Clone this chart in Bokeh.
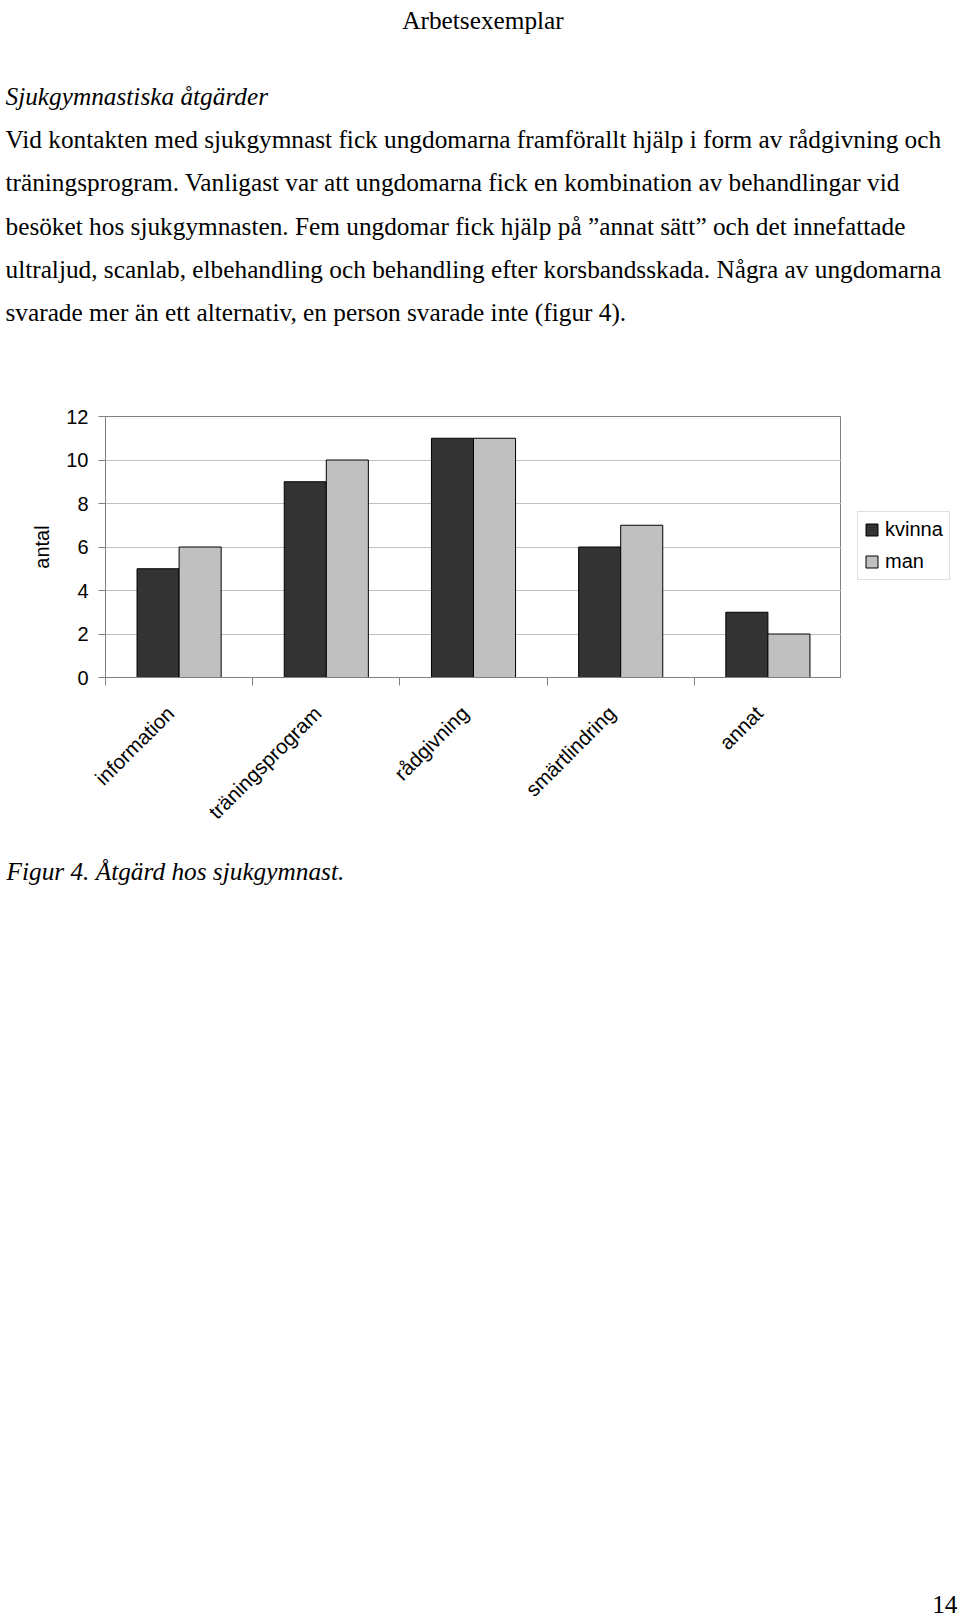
from bokeh.plotting import figure
from bokeh.models import Range1d, FixedTicker, Legend, LegendItem, ColumnDataSource
from bokeh.layouts import column, row
from bokeh.transform import dodge
from bokeh.embed import file_html
from bokeh.resources import INLINE
from bokeh.core.properties import value
from math import pi

# ---------------- page text ----------------
header = "Arbetsexemplar"
heading = "Sjukgymnastiska åtgärder"
body_lines = [
    "Vid kontakten med sjukgymnast fick ungdomarna framförallt hjälp i form av rådgivning och",
    "träningsprogram. Vanligast var att ungdomarna fick en kombination av behandlingar vid",
    "besöket hos sjukgymnasten. Fem ungdomar fick hjälp på \u201dannat sätt\u201d och det innefattade",
    "ultraljud, scanlab, elbehandling och behandling efter korsbandsskada. Några av ungdomarna",
    "svarade mer än ett alternativ, en person svarade inte (figur 4).",
]
caption = "Figur 4. Åtgärd hos sjukgymnast."
page_number = "14"

# ---------------- chart data ----------------
categories = ["information", "träningsprogram", "rådgivning", "smärtlindring", "annat"]
series_names = ["kvinna", "man"]
series_colors = ["#333333", "#c0c0c0"]
kvinna = [5, 9, 11, 6, 3]
man = [6, 10, 11, 7, 2]
y_ticks = [0, 2, 4, 6, 8, 10, 12]
y_label = "antal"

W = 960
SERIF = "Liberation Serif"
SANS = "Liberation Sans"
TXT = "25.3px"


def blank_fig(width, height, x_range, y_range):
    p = figure(width=width, height=height, x_range=x_range, y_range=y_range,
               output_backend="svg", toolbar_location=None,
               x_axis_location=None, y_axis_location=None,
               min_border=0, min_border_left=0, min_border_right=0,
               min_border_top=0, min_border_bottom=0, title=None,
               frame_align=False)
    p.grid.visible = False
    p.outline_line_color = None
    p.background_fill_color = "white"
    p.border_fill_color = "white"
    return p


def text_fig(top, height):
    return blank_fig(W, height, Range1d(0, W), Range1d(top + height, top))


# ---------------- top text block ----------------
top = text_fig(0, 390)
top.text(x=[482.5], y=[19], text=[header], text_font=value(SERIF),
         text_font_size=value(TXT), text_align="center", text_baseline="alphabetic",
         text_color="black")
top.text(x=[5], y=[95], text=[heading], text_font=value(SERIF),
         text_font_size=value(TXT), text_font_style="italic",
         text_align="left", text_baseline="alphabetic", text_color="black")
line_y = [138.5 + 43.3 * i for i in range(len(body_lines))]
top.text(x=[5] * len(body_lines), y=line_y, text=body_lines, text_font=value(SERIF),
         text_font_size=value(TXT), text_align="left", text_baseline="alphabetic",
         text_color="black")

# ---------------- chart ----------------
n = len(categories)
bar_w = 1 / 3.5
centers = [i + 0.5 for i in range(n)]
src = ColumnDataSource(dict(x=centers, kvinna=kvinna, man=man))

chart = figure(frame_width=736, frame_height=261, x_range=Range1d(0, n),
               y_range=Range1d(0, 12),
               output_backend="svg", toolbar_location=None, title=None,
               min_border_left=105, min_border_right=0,
               min_border_top=26, min_border_bottom=163, frame_align=False)
chart.outline_line_color = "#808080"
chart.border_fill_color = "white"

r1 = chart.vbar(x=dodge("x", -bar_w / 2), top="kvinna", width=bar_w, source=src,
                fill_color=series_colors[0], line_color="black", line_width=1)
r2 = chart.vbar(x=dodge("x", bar_w / 2), top="man", width=bar_w, source=src,
                fill_color=series_colors[1], line_color="black", line_width=1)

# label anchors sit a little left of the category centres (Excel-like placement)
label_pos = [c - 0.06 for c in centers]
xa = chart.xaxis[0]
xa.ticker = FixedTicker(ticks=label_pos, minor_ticks=list(range(n + 1)))
xa.major_label_overrides = {c: lab for c, lab in zip(label_pos, categories)}
xa.major_label_orientation = pi / 4
xa.major_tick_out = 0
xa.major_tick_in = 0
xa.major_tick_line_color = None
xa.minor_tick_out = 8
xa.minor_tick_in = 0
xa.minor_tick_line_color = "#808080"
xa.axis_line_color = "#808080"
xa.major_label_standoff = 24
xa.major_label_text_font = SANS
xa.major_label_text_font_size = "20.5px"
xa.major_label_text_color = "black"

ya = chart.yaxis[0]
ya.ticker = FixedTicker(ticks=y_ticks)
ya.axis_label = y_label
ya.axis_label_text_font = SANS
ya.axis_label_text_font_size = "20px"
ya.axis_label_text_font_style = "normal"
ya.axis_label_text_color = "black"
ya.axis_label_standoff = 10
ya.major_tick_out = 7
ya.major_tick_in = 0
ya.minor_tick_line_color = None
ya.major_tick_line_color = "#808080"
ya.axis_line_color = "#808080"
ya.major_label_standoff = 10
ya.major_label_text_font = SANS
ya.major_label_text_font_size = "20px"
ya.major_label_text_color = "black"

chart.xgrid.visible = False
chart.ygrid.grid_line_color = "#c0c0c0"
chart.ygrid.grid_line_width = 1

# ---------------- legend panel (right of the chart) ----------------
# the legend proxies reuse the chart's data, but this panel's ranges keep them out of view
legfig = blank_fig(W - 841, 450, Range1d(-3, -2), Range1d(-3, -2))
lr = [legfig.vbar(x="x", top=nm, width=bar_w, source=src, fill_color=c,
                  line_color="black", line_width=1)
      for nm, c in zip(series_names, series_colors)]
legend = Legend(items=[LegendItem(label=nm, renderers=[r]) for nm, r in zip(series_names, lr)],
                location=(16, 260), orientation="vertical")
legend.label_text_font = SANS
legend.label_text_font_size = "20px"
legend.label_text_color = "black"
legend.glyph_width = 15
legend.glyph_height = 15
legend.label_height = 22
legend.label_standoff = 6
legend.padding = 6
legend.spacing = 9
legend.margin = 0
legend.border_line_color = "#c0c0c0"
legend.border_line_width = 1
legend.background_fill_color = "white"
legend.background_fill_alpha = 1
legfig.add_layout(legend)

# ---------------- bottom text block ----------------
bottom = text_fig(840, 780)
bottom.text(x=[6], y=[870], text=[caption], text_font=value(SERIF),
            text_font_size=value(TXT), text_font_style="italic",
            text_align="left", text_baseline="alphabetic", text_color="black")
bottom.text(x=[957], y=[1604], text=[page_number], text_font=value(SERIF),
            text_font_size=value(TXT), text_align="right", text_baseline="alphabetic",
            text_color="black")

layout = column(top, row(chart, legfig, spacing=0), bottom, spacing=0)
open("out.html", "w").write(file_html(layout, INLINE))
